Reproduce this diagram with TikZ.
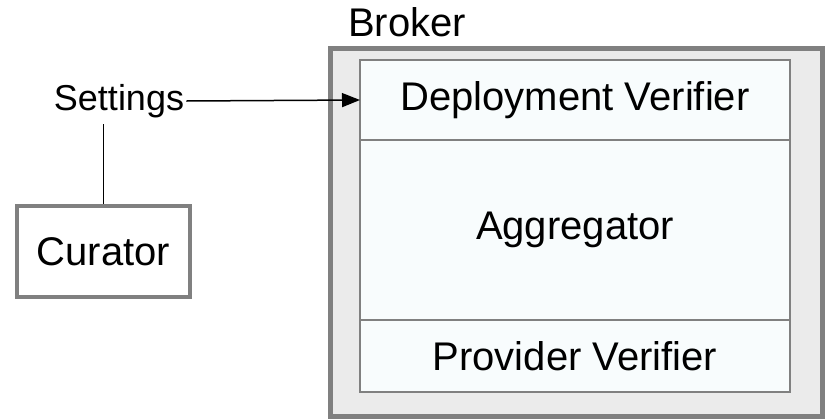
\documentclass[tikz,border=0pt]{standalone}
\usepackage{fontspec}
\setmainfont{Liberation Sans}
\usetikzlibrary{positioning,arrows.meta}
\definecolor{boxgray}{HTML}{808080}
\definecolor{brokerfill}{HTML}{EBEBEB}
\definecolor{partfill}{HTML}{F8FCFD}
\tikzset{
  part/.style={draw=boxgray,line width=1pt,fill=partfill,minimum width=215pt,
    inner sep=0pt,outer sep=0pt,font=\fontsize{20}{24}\selectfont},
  label/.style={font=\fontsize{20}{24}\selectfont},
}
\begin{document}
\begin{tikzpicture}  % ------ Broker et Curator ---------------
      [x=0.5pt,y=-0.5pt]
    \useasboundingbox (0,0) rectangle (829,418);

    % boite Broker
    \node[draw=boxgray,line width=2.5pt,fill=brokerfill,minimum width=246pt,
          minimum height=184pt,inner sep=0pt] (broker) at (576,232) {};
    \node[label,anchor=west] (brokername) at (341,22) {Broker};

    % les trois parties
    \node[part,minimum height=40pt] (deploy) at (575,100) {Deployment Verifier};
    \node[part,minimum height=90pt,below=0pt of deploy] (aggr) {Aggregator};
    \node[part,minimum height=36pt,below=0pt of aggr] (prov) {Provider Verifier};

    % Curator et Settings
    \node[draw=boxgray,line width=2pt,fill=white,minimum width=86.5pt,
          minimum height=45.5pt,label] (curator) at (103.5,251.5) {Curator};
    \node[font=\fontsize{18}{22}\selectfont,inner sep=1pt] (settings) at (119,101) {Settings};

    \draw[line width=0.75pt,-{Triangle[length=9pt,width=7pt]}] (settings.east) -- (deploy.west);
    \draw[line width=0.75pt] (curator.north) -- ([yshift=-2pt]curator.north |- settings.south);
\end{tikzpicture}
\end{document}
